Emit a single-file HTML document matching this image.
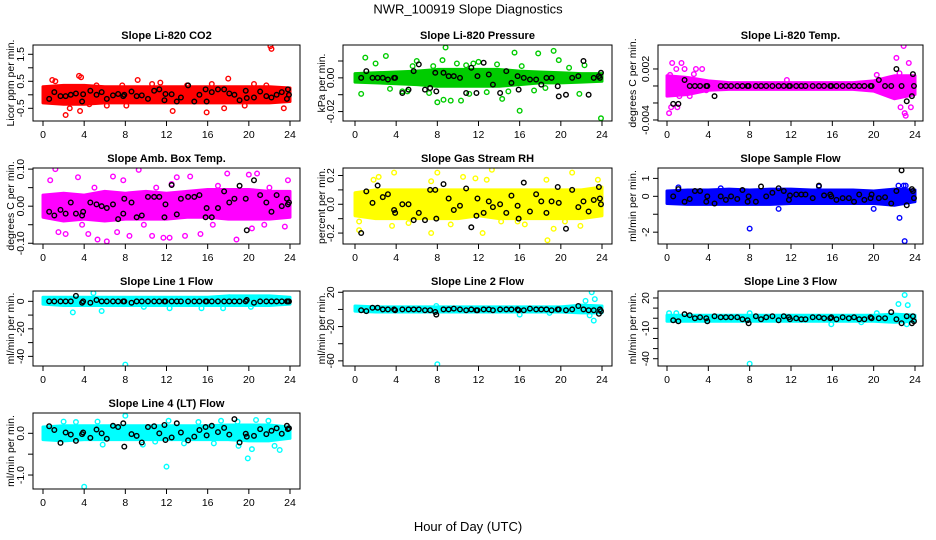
<!DOCTYPE html>
<html><head><meta charset="utf-8"><style>
html,body{margin:0;padding:0;background:#fff}
svg{display:block;font-family:"Liberation Sans",sans-serif}
</style></head><body>
<svg id="chart" width="936" height="540" viewBox="0 0 936 540">
<text x="468" y="13.5" text-anchor="middle" font-size="13">NWR_100919  Slope Diagnostics</text>
<text x="468" y="531" text-anchor="middle" font-size="13">Hour of Day (UTC)</text>
</svg>
<script>
const xTicks = [0,4,8,12,16,20,24];
const bandHours = [0,2,4,6,8,10,12,14,16,18,20,22,24];
const blackHours = [0.6,1.1,1.7,2.2,2.7,3.2,3.8,3.9,4.6,5.2,5.7,6.2,6.8,7.3,7.8,7.9,8.6,9.1,9.6,10.2,10.8,11.3,11.8,11.9,12.5,13.0,13.4,14.1,14.7,15.2,15.8,15.9,16.4,17.0,17.6,18.1,18.6,19.1,19.7,19.8,20.5,21.1,21.7,22.2,22.7,23.2,23.7,23.8,23.9];

const titles = ["Slope Li-820 CO2","Slope Li-820 Pressure","Slope Li-820 Temp.","Slope Amb. Box Temp.","Slope Gas Stream RH","Slope Sample Flow","Slope Line 1 Flow","Slope Line 2 Flow","Slope Line 3 Flow","Slope Line 4 (LT) Flow"];
const yLabels = ["Licor ppm per min.","kPa per min.","degrees C per min.","degrees C per min.","percent per min.","ml/min per min.","ml/min per min.","ml/min per min.","ml/min per min.","ml/min per min."];
const colors = ["#ff0000","#00cc00","#ff00ff","#ff00ff","#ffff00","#0000ff","#00ffff","#00ffff","#00ffff","#00ffff"];
const yLims = [[-0.97,1.844],[-0.0256,0.0195],[-0.00412,0.00482],[-0.102,0.103],[-0.276,0.252],[-2.66,1.58],[-47,7.5],[-66,21.5],[-47.2,26.9],[-1.335,0.487]];
const yTickVals = [[-0.5,0,0.5,1,1.5],[-0.02,-0.01,0,0.01],[-0.004,-0.002,0,0.002],[-0.1,-0.05,0,0.05,0.1],[-0.2,-0.1,0,0.1,0.2],[-2,-1,0,1],[-40,-30,-20,-10,0],[-60,-40,-20,0,20],[-40,-30,-20,-10,0,10,20],[-1,-0.5,0]];
const yTickLabels = [["-0.5","","0.5","","1.5"],["-0.02","","0.00",""],["-0.004","","","0.002"],["-0.10","","0.00","","0.10"],["-0.2","","0.0","","0.2"],["-2","","0","1"],["-40","","-20","","0"],["-60","","-20","","20"],["-40","","","-10","","","20"],["-1.0","","0.0"]];

const bandLo = [
[-0.3,-0.35,-0.35,-0.3,-0.3,-0.3,-0.3,-0.3,-0.3,-0.3,-0.3,-0.3,-0.25],
[-0.0025,-0.003,-0.0035,-0.004,-0.005,-0.005,-0.005,-0.005,-0.004,-0.003,-0.003,-0.0025,-0.002],
[-0.0012,-0.001,-0.0005,-0.0004,-0.0004,-0.0004,-0.0004,-0.0004,-0.0004,-0.0004,-0.0006,-0.0015,-0.001],
[-0.03,-0.04,-0.035,-0.04,-0.035,-0.035,-0.035,-0.03,-0.03,-0.035,-0.035,-0.035,-0.03],
[-0.08,-0.1,-0.1,-0.1,-0.1,-0.1,-0.08,-0.1,-0.1,-0.1,-0.1,-0.1,-0.08],
[-0.4,-0.45,-0.45,-0.45,-0.45,-0.45,-0.4,-0.4,-0.4,-0.4,-0.4,-0.5,-0.3],
[-2,-3,-3,-3,-3,-3,-3,-3,-3,-3,-3,-3,-2],
[-2,-3,-3,-3,-3,-3,-3,-3,-3,-3,-3,-4,-4],
[-3,-3,-3,-3,-3,-3,-3,-3,-3,-3,-3,-4,-3],
[-0.15,-0.18,-0.15,-0.15,-0.15,-0.15,-0.15,-0.15,-0.15,-0.15,-0.18,-0.18,-0.12]];
const bandHi = [
[0.3,0.35,0.35,0.3,0.3,0.3,0.3,0.3,0.3,0.3,0.3,0.3,0.25],
[0.0025,0.003,0.0035,0.004,0.005,0.005,0.005,0.005,0.004,0.0035,0.003,0.0025,0.0025],
[0.0012,0.001,0.0006,0.0004,0.0004,0.0004,0.0004,0.0004,0.0004,0.0004,0.0006,0.0012,0.0012],
[0.03,0.035,0.03,0.04,0.035,0.04,0.035,0.04,0.045,0.045,0.045,0.04,0.04],
[0.08,0.1,0.1,0.1,0.1,0.1,0.1,0.1,0.1,0.1,0.1,0.1,0.12],
[0.3,0.35,0.35,0.4,0.35,0.4,0.4,0.35,0.35,0.35,0.3,0.4,0.35],
[3,3,3,3,3,3,3,3,3,4,4,4,3],
[4,3,3,3,3,3,3,3,3,3,3,5,4],
[3,3,3,3,3,3,3,3,3,3,3,4,3],
[0.15,0.18,0.18,0.18,0.18,0.18,0.18,0.18,0.18,0.2,0.2,0.2,0.15]];

const outliers = [
[[1.5,-1.2],[3.4,-1.1],[3.6,-0.6],[3.5,0.7],[3.7,0.65],[0.9,0.55],[2.2,-0.75],[9.2,0.55],[13.2,-1.35],[18,0.6],[22.1,1.8],[22.2,1.7],[12.6,-0.6],[1.2,0.5],[6.2,-0.4],[8.1,-0.4],[10.6,0.4],[15.9,-0.65],[17.6,-0.5],[20.5,0.4],[23.4,-0.5],[14,0.35],[5.2,0.35],[2.6,-0.5],[19.6,-0.4],[11.4,0.45],[16.4,0.4],[7.7,0.35],[21.7,0.35],[4.5,-0.35]],
[[8,-0.0145],[8.6,-0.013],[8.8,0.018],[6,0.01],[8.5,0.0105],[11.5,0.0085],[12,0.0095],[15.5,0.015],[19.3,0.016],[17.8,0.0145],[23.9,-0.024],[16,-0.0195],[14.3,-0.0125],[9.3,-0.0135],[7.2,-0.009],[3,0.013],[2,0.0085],[1,0.012],[0.6,-0.0095],[4.6,-0.008],[11.1,-0.0095],[13.8,0.008],[20.8,0.006],[21.8,-0.0095],[22.3,0.0075],[10.3,-0.0135],[5.6,0.007],[18.5,-0.006],[12.8,-0.0085],[9.9,0.0085],[7.6,0.007],[14.9,-0.008],[17.4,-0.0075],[5.1,-0.008],[3.4,-0.0065],[10.8,0.0075],[19.8,0.0105],[16.2,0.007]],
[[0.2,-0.0032],[0.4,-0.0025],[0.5,0.0027],[1.4,0.0027],[0.9,0.002],[1.7,0.002],[2.8,0.002],[3.4,0.002],[1.0,-0.0025],[0.3,0.0013],[2.6,0.0014],[11.6,0.0007],[20.3,0.0013],[22.2,0.0033],[22.9,0.0047],[23.4,0.0027],[22.6,-0.0025],[23.0,-0.0032],[23.1,-0.0035],[23.6,-0.0025],[22.5,0.0015],[23.8,0.0005],[1.2,-0.0012],[2.2,-0.0012],[3.8,-0.0005],[21.8,-0.0012]],
[[1.2,0.1],[9.3,0.098],[0.7,0.07],[3.4,0.078],[6.8,0.08],[7.8,0.07],[12.5,0.06],[13,0.078],[14.3,0.08],[17.9,0.088],[20,0.085],[20.8,0.088],[23.8,0.07],[1.5,-0.07],[2.2,-0.075],[4.4,-0.075],[5.3,-0.09],[6.2,-0.095],[7.2,-0.07],[8.4,-0.08],[10.6,-0.08],[11.7,-0.085],[12.3,-0.085],[13.8,-0.08],[15.3,-0.075],[18.8,-0.09],[20.3,-0.06],[23.5,-0.055],[3.8,-0.05],[9.8,-0.05],[16.5,-0.05],[21.5,-0.05],[5,0.05],[11,0.05],[17,0.055],[22,0.05]],
[[0.4,-0.18],[0.4,-0.12],[3.6,-0.15],[3.8,0.22],[7.4,-0.2],[8,0.22],[7.4,0.16],[10.5,0.19],[11.7,0.18],[12.4,-0.2],[13.3,0.24],[12.8,0.17],[18.7,-0.25],[18.6,0.17],[21.1,0.22],[21.9,-0.15],[19.3,-0.17],[2.3,0.19],[1.8,0.17],[23.6,0.17],[15.8,-0.12],[16.5,-0.14],[9.3,-0.14],[5.2,-0.13],[14.2,-0.12],[20.4,-0.12]],
[[8,-1.8],[20,-0.7],[10.8,-0.7],[22.5,-1.2],[23,-2.5],[22.9,0.6],[23.1,0.6],[22.4,0.6],[14.7,0.55],[1.1,0.5],[5.2,0.45]],
[[8,-46],[2.9,-8],[4.9,6],[5.7,-7],[20.2,-4],[15.4,-5],[17.5,-5],[12.3,-5],[9.8,-4],[18.1,3]],
[[8,-64],[23,20],[23.3,12],[22.4,10],[23.2,-13],[22.8,-7],[16,-6],[7.9,4],[18.9,-4]],
[[8,-45],[23,23],[22.4,14],[23.3,13],[15.9,-6],[23.2,-6],[8,5],[0.2,5],[0.9,5],[20.3,5],[18.8,-4]],
[[4,-1.28],[12,-0.8],[19.9,-0.6],[8,0.42],[20.7,0.32],[21.9,0.3],[23,-0.4],[20.3,-0.38],[22.5,-0.3],[18.9,0.28],[5.3,0.28],[12.2,0.3],[2,0.28],[3.2,0.27],[15.1,0.27],[17.3,0.3],[5.8,-0.27],[9.7,-0.27],[10.9,-0.2],[13.7,-0.24],[16.6,-0.24],[19,-0.3]]];

const blackVals = [
[-0.15,0.1,-0.05,-0.05,0,0.05,-0.25,0.02,0.15,0,0.1,-0.15,-0.02,0.03,-0.05,0,0.12,-0.05,-0.02,-0.15,0.15,0.2,-0.2,0.03,0.02,-0.25,-0.1,0.35,-0.25,0,0.2,-0.25,0.1,0.2,0.2,0.05,0,-0.2,0.15,-0.12,-0.1,0.12,-0.05,-0.1,0,0.1,-0.15,0.2,0],
[0,0.004,0,0,0,-0.001,0,0,-0.009,-0.007,0.004,0.008,-0.007,-0.006,0.003,-0.008,0.003,0.001,0.001,0,-0.009,0.006,-0.009,0.001,0.009,0.002,-0.004,-0.009,0.004,-0.003,0.001,-0.007,0,-0.001,-0.001,-0.004,0,0,-0.005,-0.011,-0.01,0,0.001,0.01,-0.01,0,0.001,0,0.003],
[-0.0021,-0.0021,0.0007,0,0,0,0,0,-0.0012,0,0,0,0,0,0,0,0,0,0,0,0,0,0,0,0,0,0,0,0,0,0,0,0,0,0,0,0,0,0,0,0.0007,0,0,0.002,0,-0.0018,-0.0012,0.0014,0],
[-0.015,-0.025,-0.01,-0.02,0.01,-0.02,-0.025,-0.015,0.01,0.005,0,-0.005,0.005,-0.035,-0.02,0.02,0.01,-0.03,-0.025,0.025,0.025,0.025,-0.03,0.005,0.057,-0.022,0.02,0.025,0.025,0.03,-0.03,-0.005,-0.03,-0.005,0.04,0.01,0.02,0.055,0.02,-0.065,0.07,0.03,0.01,-0.015,0.03,0,0.02,0.005,0.01],
[-0.2,0.09,0.01,0.13,0.05,0.07,-0.04,-0.06,0,0,-0.11,-0.06,-0.11,0.1,0.1,-0.1,0.14,0.04,-0.04,-0.01,0.11,-0.16,-0.08,0.04,-0.06,0.02,-0.02,0,-0.06,0.06,-0.01,-0.1,0.15,-0.05,0.07,0.02,-0.06,0.02,0.12,0.01,-0.17,0.1,-0.02,0.02,-0.05,0.03,0.12,0.04,0],
[0,0.4,-0.3,-0.15,0.3,0.3,-0.3,0,-0.4,0,-0.2,0,-0.15,0.35,-0.3,0,-0.3,0.55,0,0.2,0.45,0.3,-0.2,0.05,0.1,0.1,0.1,-0.1,0.6,0.05,0.1,0,-0.2,-0.1,-0.1,-0.3,0.1,-0.2,-0.1,0.1,-0.1,-0.05,-0.4,0.3,1.45,-0.5,0.4,0.3,-0.1],
[0,0,0,0,0,4,-1,0,-1,1,0,0,0,0,0,0,-1,0,0,0,0,0,0,0,0,0,0,0,0,0,0,0,0,0,0,0,0,0,0,1,-1,0,0,0,0,0,0,0,0],
[-1,-2,2,2,0,0,0,-1,0,0,0,0,-1,-1,-3,-6,0,0,1,0,-1,0,-1,-1,0,0,-1,0,0,0,0,-1,-1,1,0,0,0,-1,0,0,-1,0,4,0,-1,-1,-5,0,-2],
[-2,-3,4,3,0,1,0,-3,2,1,1,1,1,-1,-2,-5,2,-1,1,2,-2,2,1,-1,0,-1,-1,1,1,0,0,1,-1,1,0,1,-1,-1,1,0,0,0,6,-1,-5,2,-5,2,-3],
[0.17,0.08,-0.23,0.02,-0.03,-0.18,-0.02,0.02,-0.11,0.09,0,-0.13,0.18,0.15,0.24,-0.32,-0.02,-0.06,-0.22,0.15,0.17,0,0.2,-0.16,-0.1,0.24,0.02,-0.17,-0.08,0.08,0.15,-0.05,0.18,0.03,0.13,-0.03,0.34,-0.22,-0.01,-0.08,-0.06,0.1,-0.02,0.06,0.12,-0.01,0.18,0.1,0.12]];

const NS = "http://www.w3.org/2000/svg";
const svg = document.getElementById('chart');
const colX = [[33,300,43,290],[343,612,355,602],[658,923,667,915]];
const rowY = [[45,121],[168,244],[291,366],[413,489]];
const yLabX = [10,321,632];

function mk(tag, attrs, parent){const e=document.createElementNS(NS,tag);for(const k in attrs)e.setAttribute(k,attrs[k]);(parent||svg).appendChild(e);return e;}

for (let p=0;p<10;p++){
  const col=p%3,row=Math.floor(p/3);
  const [L,R,x0,x24]=colX[col];const [T,B]=rowY[row];
  const xs=h=>x0+(x24-x0)*h/24;
  const [ymin,ymax]=yLims[p];
  const ys=v=>B-(v-ymin)/(ymax-ymin)*(B-T);
  const g=mk('g',{});
  
  
  const clipId='clip'+p;
  const cp=mk('clipPath',{id:clipId},g);mk('rect',{x:L,y:T,width:R-L,height:B-T},cp);
  const plot=mk('g',{'clip-path':'url(#'+clipId+')'},g);
  let pts=bandHours.map((h,i)=>xs(h)+','+ys(bandHi[p][i]));
  pts=pts.concat(bandHours.slice().reverse().map((h,i)=>xs(h)+','+ys(bandLo[p][bandHours.length-1-i])));
  const band=mk('polygon',{points:pts.join(' '),fill:colors[p],stroke:colors[p],'stroke-width':3,'stroke-linejoin':'round'},plot);
  
  
  outliers[p].forEach(([h,v])=>{
    const c=mk('circle',{cx:xs(h),cy:ys(v),r:2.3,fill:'none',stroke:colors[p],'stroke-width':1.4},plot);
    
    
  });
  blackHours.forEach((h,i)=>{
    if(blackVals[p][i]===undefined)return;
    const c=mk('circle',{cx:xs(h),cy:ys(blackVals[p][i]),r:2.3,fill:'none',stroke:'#000','stroke-width':1.4},plot);
    
    
  });
  const box=mk('rect',{x:L,y:T,width:R-L,height:B-T,fill:'none',stroke:'#000','stroke-width':1},g);
  
  
  const t=mk('text',{x:(L+R)/2,y:T-6,'text-anchor':'middle','font-size':11,'font-weight':'bold'},g);
  t.textContent=titles[p];
  
  
  mk('line',{x1:xs(0),x2:xs(24),y1:B,y2:B,stroke:'#000'},g);
  xTicks.forEach(h=>{
    mk('line',{x1:xs(h),x2:xs(h),y1:B,y2:B+5,stroke:'#000'},g);
    const tl=mk('text',{x:xs(h),y:B+17,'text-anchor':'middle','font-size':10.5},g);
    tl.textContent=h;
    
    
  });
  const tv=yTickVals[p];
  mk('line',{x1:L,x2:L,y1:ys(tv[0]),y2:ys(tv[tv.length-1]),stroke:'#000'},g);
  tv.forEach((v,i)=>{
    mk('line',{x1:L-5,x2:L,y1:ys(v),y2:ys(v),stroke:'#000'},g);
    const lab=yTickLabels[p][i];
    if(lab){
      const yy=ys(v),xx=L-9;
      const tl=mk('text',{x:xx,y:yy,'text-anchor':'middle','font-size':10.5,transform:'rotate(-90 '+xx+' '+yy+')'},g);
      tl.textContent=lab;
      
      
    }
  });
  const yl=yLabX[col]+4,ym=(T+B)/2;
  const ylab=mk('text',{x:yl,y:ym,'text-anchor':'middle','font-size':10.5,transform:'rotate(-90 '+yl+' '+ym+')'},g);
  ylab.textContent=yLabels[p];
  
  
}
</script>
</body></html>
